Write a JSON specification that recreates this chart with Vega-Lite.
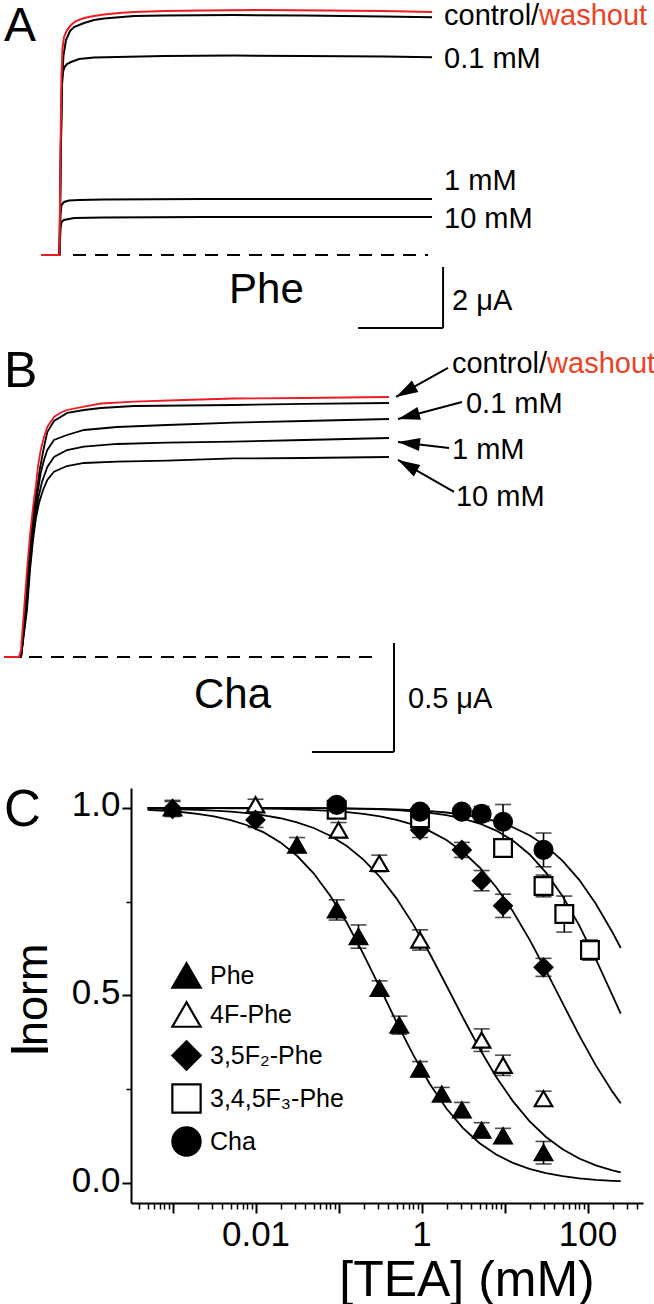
{
"$schema": "https://vega.github.io/schema/vega-lite/v6.json",
"padding": 0,
"spacing": 0,
"bounds": "flush",
"resolve": {"scale": {"shape": "independent", "fill": "independent", "stroke": "independent", "size": "independent"}, "legend": {"shape": "independent", "fill": "independent", "stroke": "independent", "size": "independent"}},
"config": {
  "font": "Liberation Sans, Arial, sans-serif",
  "view": {"stroke": null},
  "axis": {"grid": false, "domainColor": "black", "tickColor": "black", "labelColor": "black", "titleColor": "black", "titleFontWeight": "normal", "labelFont": "Liberation Sans, Arial, sans-serif", "titleFont": "Liberation Sans, Arial, sans-serif"},
  "legend": {"labelFont": "Liberation Sans, Arial, sans-serif", "labelColor": "black"},
  "text": {"color": "black"}
},
"datasets": {
  "a_black": [
    {"trace":"control","t":-42.4,"i":0},{"trace":"control","t":0,"i":0},{"trace":"control","t":3.06,"i":3.443},{"trace":"control","t":5.88,"i":5.738},{"trace":"control","t":9.41,"i":6.557},{"trace":"control","t":15.29,"i":7.049},{"trace":"control","t":24.71,"i":7.344},{"trace":"control","t":34.12,"i":7.475},{"trace":"control","t":57.65,"i":7.607},{"trace":"control","t":81.18,"i":7.705},{"trace":"control","t":104.7,"i":7.754},{"trace":"control","t":175.3,"i":7.836},{"trace":"control","t":245.9,"i":7.852},{"trace":"control","t":410.6,"i":7.869},{"trace":"control","t":575.3,"i":7.852},{"trace":"control","t":763.5,"i":7.82},{"trace":"control","t":876.4,"i":7.793},
    {"trace":"0.1 mM","t":0,"i":0},{"trace":"0.1 mM","t":3.06,"i":3.443},{"trace":"0.1 mM","t":5.88,"i":5.574},{"trace":"0.1 mM","t":8.24,"i":6.0},{"trace":"0.1 mM","t":11.77,"i":6.164},{"trace":"0.1 mM","t":17.65,"i":6.262},{"trace":"0.1 mM","t":27.06,"i":6.328},{"trace":"0.1 mM","t":45.88,"i":6.426},{"trace":"0.1 mM","t":81.18,"i":6.475},{"trace":"0.1 mM","t":135.3,"i":6.492},{"trace":"0.1 mM","t":245.9,"i":6.525},{"trace":"0.1 mM","t":410.6,"i":6.541},{"trace":"0.1 mM","t":575.3,"i":6.525},{"trace":"0.1 mM","t":763.5,"i":6.508},{"trace":"0.1 mM","t":876.4,"i":6.482},
    {"trace":"1 mM","t":0,"i":0},{"trace":"1 mM","t":2.35,"i":1.311},{"trace":"1 mM","t":4.71,"i":1.639},{"trace":"1 mM","t":10.59,"i":1.738},{"trace":"1 mM","t":22.35,"i":1.787},{"trace":"1 mM","t":45.88,"i":1.803},{"trace":"1 mM","t":104.7,"i":1.82},{"trace":"1 mM","t":340.0,"i":1.836},{"trace":"1 mM","t":575.3,"i":1.836},{"trace":"1 mM","t":876.4,"i":1.836},
    {"trace":"10 mM","t":0,"i":0},{"trace":"10 mM","t":2.35,"i":0.885},{"trace":"10 mM","t":4.71,"i":1.082},{"trace":"10 mM","t":10.59,"i":1.148},{"trace":"10 mM","t":34.12,"i":1.213},{"trace":"10 mM","t":104.7,"i":1.23},{"trace":"10 mM","t":340.0,"i":1.246},{"trace":"10 mM","t":575.3,"i":1.246},{"trace":"10 mM","t":876.4,"i":1.246}
  ],
  "a_red": [
    {"t":-42.4,"i":0},{"t":0,"i":0},{"t":2.35,"i":3.443},{"t":4.71,"i":5.902},{"t":7.06,"i":6.787},{"t":10.59,"i":7.148},{"t":17.65,"i":7.377},{"t":27.06,"i":7.541},{"t":38.82,"i":7.672},{"t":57.65,"i":7.77},{"t":81.18,"i":7.836},{"t":104.7,"i":7.885},{"t":140.0,"i":7.934},{"t":175.3,"i":7.967},{"t":245.9,"i":8.0},{"t":340.0,"i":8.016},{"t":481.2,"i":8.033},{"t":622.4,"i":8.016},{"t":763.5,"i":8.0},{"t":876.4,"i":7.967}
  ],
  "a_base": [{"t":31.8,"i":0,"t2":867.1}],
  "a_bar": [{"t":902.4,"i":-0.393,"t2":902.4,"i2":-2.393},{"t":702.4,"i":-2.393,"t2":902.4,"i2":-2.393}],
  "a_text": [{"label":"control/","t":904.7,"i":7.525},{"label":"0.1 mM","t":904.7,"i":6.131},{"label":"1 mM","t":904.7,"i":2.131},{"label":"10 mM","t":904.7,"i":0.885},{"label":"2 μA","t":923.5,"i":-1.803}],
  "a_wash": [{"label":"washout","t":1128.3,"i":7.525}],
  "a_big": [{"label":"Phe","t":398.9,"i":-1.574}],
  "a_letter": [{"label":"A","t":-130.6,"i":7.016}],
  "b_black": [
    {"trace":"control","t":-41.5,"i":0},{"trace":"control","t":0,"i":0},{"trace":"control","t":2.4,"i":0.0321},{"trace":"control","t":9.8,"i":0.2156},{"trace":"control","t":17.1,"i":0.3991},{"trace":"control","t":24.4,"i":0.5596},{"trace":"control","t":31.7,"i":0.6835},{"trace":"control","t":39.0,"i":0.7706},{"trace":"control","t":46.4,"i":0.867},{"trace":"control","t":56.1,"i":0.9633},{"trace":"control","t":64.2,"i":1.0321},{"trace":"control","t":80.5,"i":1.0826},{"trace":"control","t":113.0,"i":1.1193},{"trace":"control","t":153.7,"i":1.133},{"trace":"control","t":194.5,"i":1.1422},{"trace":"control","t":275.7,"i":1.1514},{"trace":"control","t":519.7,"i":1.156},{"trace":"control","t":690.5,"i":1.1606},{"trace":"control","t":897.9,"i":1.1651},
    {"trace":"0.1 mM","t":0,"i":0},{"trace":"0.1 mM","t":12.2,"i":0.2156},{"trace":"0.1 mM","t":19.5,"i":0.3991},{"trace":"0.1 mM","t":26.8,"i":0.5505},{"trace":"0.1 mM","t":34.2,"i":0.6743},{"trace":"0.1 mM","t":41.5,"i":0.7661},{"trace":"0.1 mM","t":48.1,"i":0.844},{"trace":"0.1 mM","t":56.1,"i":0.9037},{"trace":"0.1 mM","t":64.2,"i":0.9495},{"trace":"0.1 mM","t":80.5,"i":0.9954},{"trace":"0.1 mM","t":112.2,"i":1.0183},{"trace":"0.1 mM","t":153.7,"i":1.0413},{"trace":"0.1 mM","t":234.2,"i":1.055},{"trace":"0.1 mM","t":356.2,"i":1.0642},{"trace":"0.1 mM","t":519.7,"i":1.0748},{"trace":"0.1 mM","t":690.5,"i":1.0826},{"trace":"0.1 mM","t":897.9,"i":1.0917},
    {"trace":"1 mM","t":0,"i":0},{"trace":"1 mM","t":13.4,"i":0.2156},{"trace":"1 mM","t":20.7,"i":0.3991},{"trace":"1 mM","t":28.1,"i":0.5367},{"trace":"1 mM","t":35.4,"i":0.6514},{"trace":"1 mM","t":42.7,"i":0.7339},{"trace":"1 mM","t":51.2,"i":0.8028},{"trace":"1 mM","t":64.2,"i":0.8716},{"trace":"1 mM","t":80.5,"i":0.9174},{"trace":"1 mM","t":112.2,"i":0.9495},{"trace":"1 mM","t":153.7,"i":0.9647},{"trace":"1 mM","t":234.2,"i":0.9771},{"trace":"1 mM","t":356.2,"i":0.983},{"trace":"1 mM","t":519.7,"i":0.9876},{"trace":"1 mM","t":690.5,"i":0.9954},{"trace":"1 mM","t":897.9,"i":1.0046},
    {"trace":"10 mM","t":0,"i":0},{"trace":"10 mM","t":14.6,"i":0.2156},{"trace":"10 mM","t":22.0,"i":0.3991},{"trace":"10 mM","t":29.3,"i":0.5367},{"trace":"10 mM","t":36.6,"i":0.6376},{"trace":"10 mM","t":43.9,"i":0.7064},{"trace":"10 mM","t":53.7,"i":0.7661},{"trace":"10 mM","t":64.2,"i":0.8119},{"trace":"10 mM","t":80.5,"i":0.85},{"trace":"10 mM","t":112.2,"i":0.8761},{"trace":"10 mM","t":153.7,"i":0.8899},{"trace":"10 mM","t":234.2,"i":0.8959},{"trace":"10 mM","t":356.2,"i":0.9005},{"trace":"10 mM","t":519.7,"i":0.9106},{"trace":"10 mM","t":690.5,"i":0.9128},{"trace":"10 mM","t":897.9,"i":0.9174}
  ],
  "b_red": [
    {"t":-41.5,"i":0},{"t":-4.9,"i":0},{"t":0,"i":0.0321},{"t":7.3,"i":0.2156},{"t":14.6,"i":0.3991},{"t":22.0,"i":0.5596},{"t":29.3,"i":0.6881},{"t":35.9,"i":0.7798},{"t":41.5,"i":0.8761},{"t":48.1,"i":0.9495},{"t":56.1,"i":1.0092},{"t":64.2,"i":1.055},{"t":80.5,"i":1.1009},{"t":95.2,"i":1.1193},{"t":112.2,"i":1.133},{"t":153.7,"i":1.1482},{"t":195.2,"i":1.1628},{"t":275.7,"i":1.1711},{"t":397.7,"i":1.1789},{"t":519.7,"i":1.1858},{"t":690.5,"i":1.1881},{"t":788.1,"i":1.1904},{"t":897.9,"i":1.1927}
  ],
  "b_base": [{"t":19.5,"i":0,"t2":863.8}],
  "b_lines": [
    {"t":910.1,"i":0.0642,"t2":910.1,"i2":-0.4358},{"t":710.0,"i":-0.4358,"t2":910.1,"i2":-0.4358},
    {"t":1041.9,"i":1.3257,"t2":915.0,"i2":1.1927},{"t":1076.0,"i":1.1697,"t2":919.9,"i2":1.0917},{"t":1044.3,"i":0.9587,"t2":919.9,"i2":0.9862},{"t":1056.5,"i":0.7569,"t2":919.9,"i2":0.9037}
  ],
  "b_heads": [{"t":915.0,"i":1.1927,"dir":150.9},{"t":919.9,"i":1.0917,"dir":165.1},{"t":919.9,"i":0.9862,"dir":186.7},{"t":919.9,"i":0.9037,"dir":209.7}],
  "b_text": [{"label":"control/","t":1051.6,"i":1.3028},{"label":"0.1 mM","t":1085.8,"i":1.1193},{"label":"1 mM","t":1051.6,"i":0.9083},{"label":"10 mM","t":1061.4,"i":0.6927},{"label":"0.5 μA","t":944.3,"i":-0.2339}],
  "b_wash": [{"label":"washout","t":1283.7,"i":1.3028}],
  "b_big": [{"label":"Cha","t":422.1,"i":-0.2339}],
  "b_letter": [{"label":"B","t":-41.5,"i":1.2385}],
  "curves": [
    {"c":0.000501,"Phe":0.9947,"F4":0.9982,"F2":0.9998,"F3":1.0,"Cha":1.0},
    {"c":0.000794,"Phe":0.9924,"F4":0.9975,"F2":0.9998,"F3":1.0,"Cha":1.0},
    {"c":0.001259,"Phe":0.989,"F4":0.9964,"F2":0.9997,"F3":1.0,"Cha":1.0},
    {"c":0.001995,"Phe":0.9842,"F4":0.995,"F2":0.9995,"F3":0.9999,"Cha":1.0},
    {"c":0.003162,"Phe":0.9774,"F4":0.9929,"F2":0.9993,"F3":0.9999,"Cha":0.9999},
    {"c":0.005012,"Phe":0.9676,"F4":0.99,"F2":0.999,"F3":0.9999,"Cha":0.9999},
    {"c":0.007943,"Phe":0.9538,"F4":0.986,"F2":0.9986,"F3":0.9998,"Cha":0.9999},
    {"c":0.01259,"Phe":0.9346,"F4":0.9803,"F2":0.998,"F3":0.9997,"Cha":0.9998},
    {"c":0.01995,"Phe":0.9081,"F4":0.9724,"F2":0.9972,"F3":0.9996,"Cha":0.9997},
    {"c":0.03162,"Phe":0.8724,"F4":0.9614,"F2":0.996,"F3":0.9994,"Cha":0.9995},
    {"c":0.05012,"Phe":0.8256,"F4":0.9464,"F2":0.9943,"F3":0.9991,"Cha":0.9993},
    {"c":0.07943,"Phe":0.766,"F4":0.9259,"F2":0.992,"F3":0.9987,"Cha":0.9991},
    {"c":0.1259,"Phe":0.6937,"F4":0.8984,"F2":0.9887,"F3":0.9981,"Cha":0.9986},
    {"c":0.1995,"Phe":0.6104,"F4":0.8623,"F2":0.984,"F3":0.9972,"Cha":0.998},
    {"c":0.3162,"Phe":0.5201,"F4":0.8159,"F2":0.9774,"F3":0.9959,"Cha":0.9972},
    {"c":0.5012,"Phe":0.4285,"F4":0.7583,"F2":0.9682,"F3":0.9939,"Cha":0.9959},
    {"c":0.7943,"Phe":0.3416,"F4":0.6896,"F2":0.9555,"F3":0.991,"Cha":0.9941},
    {"c":1.259,"Phe":0.2641,"F4":0.6113,"F2":0.938,"F3":0.9867,"Cha":0.9915},
    {"c":1.995,"Phe":0.1989,"F4":0.5267,"F2":0.9143,"F3":0.9805,"Cha":0.9877},
    {"c":3.162,"Phe":0.1466,"F4":0.4407,"F2":0.8826,"F3":0.9714,"Cha":0.9823},
    {"c":5.012,"Phe":0.1062,"F4":0.358,"F2":0.8412,"F3":0.9583,"Cha":0.9747},
    {"c":7.943,"Phe":0.076,"F4":0.283,"F2":0.7887,"F3":0.9395,"Cha":0.9638},
    {"c":12.59,"Phe":0.0538,"F4":0.2185,"F2":0.7245,"F3":0.913,"Cha":0.9485},
    {"c":19.95,"Phe":0.0379,"F4":0.1652,"F2":0.6496,"F3":0.8765,"Cha":0.9272},
    {"c":31.62,"Phe":0.0265,"F4":0.1229,"F2":0.5664,"F3":0.8275,"Cha":0.8981},
    {"c":50.12,"Phe":0.0185,"F4":0.0902,"F2":0.4795,"F3":0.7643,"Cha":0.859},
    {"c":79.43,"Phe":0.0129,"F4":0.0656,"F2":0.3936,"F3":0.6868,"Cha":0.8083},
    {"c":125.9,"Phe":0.0089,"F4":0.0474,"F2":0.3138,"F3":0.5972,"Cha":0.7447},
    {"c":199.5,"Phe":0.0062,"F4":0.034,"F2":0.2438,"F3":0.5005,"Cha":0.6687},
    {"c":251.2,"Phe":0.0052,"F4":0.0288,"F2":0.2129,"F3":0.4517,"Cha":0.6267}
  ],
  "pts": [
    {"s":"Phe","c":0.001,"v":1.0,"e":0.02},{"s":"Phe","c":0.0316,"v":0.901,"e":0.02},{"s":"Phe","c":0.095,"v":0.728,"e":0.027},{"s":"Phe","c":0.174,"v":0.657,"e":0.031},{"s":"Phe","c":0.312,"v":0.519,"e":0.02},{"s":"Phe","c":0.54,"v":0.421,"e":0.024},{"s":"Phe","c":0.96,"v":0.304,"e":0.02},{"s":"Phe","c":1.75,"v":0.237,"e":0.018},{"s":"Phe","c":3.06,"v":0.195,"e":0.02},{"s":"Phe","c":5.3,"v":0.141,"e":0.02},{"s":"Phe","c":9.6,"v":0.126,"e":0.02},{"s":"Phe","c":29.5,"v":0.081,"e":0.03},
    {"s":"4F-Phe","c":0.01,"v":1.008,"e":0.015},{"s":"4F-Phe","c":0.1,"v":0.941,"e":0.02},{"s":"4F-Phe","c":0.31,"v":0.852,"e":0.022},{"s":"4F-Phe","c":0.96,"v":0.648,"e":0.027},{"s":"4F-Phe","c":5.3,"v":0.381,"e":0.03},{"s":"4F-Phe","c":9.6,"v":0.314,"e":0.027},{"s":"4F-Phe","c":29.5,"v":0.225,"e":0.02},
    {"s":"3,5F₂-Phe","c":0.001,"v":0.997,"e":0.02},{"s":"3,5F₂-Phe","c":0.01,"v":0.968,"e":0.02},{"s":"3,5F₂-Phe","c":0.96,"v":0.941,"e":0.02},{"s":"3,5F₂-Phe","c":3.06,"v":0.888,"e":0.02},{"s":"3,5F₂-Phe","c":5.3,"v":0.806,"e":0.027},{"s":"3,5F₂-Phe","c":9.6,"v":0.739,"e":0.031},{"s":"3,5F₂-Phe","c":29.5,"v":0.575,"e":0.024},
    {"s":"3,4,5F₃-Phe","c":0.095,"v":0.995,"e":0.015},{"s":"3,4,5F₃-Phe","c":0.96,"v":0.9725,"e":0.02},{"s":"3,4,5F₃-Phe","c":9.6,"v":0.893,"e":0.02},{"s":"3,4,5F₃-Phe","c":29.5,"v":0.792,"e":0.029},{"s":"3,4,5F₃-Phe","c":52.5,"v":0.717,"e":0.048},{"s":"3,4,5F₃-Phe","c":107,"v":0.621,"e":0.027},
    {"s":"Cha","c":0.095,"v":1.008,"e":0.015},{"s":"Cha","c":0.96,"v":0.99,"e":0.015},{"s":"Cha","c":3.06,"v":0.99,"e":0.015},{"s":"Cha","c":5.3,"v":0.984,"e":0.02},{"s":"Cha","c":9.6,"v":0.963,"e":0.046},{"s":"Cha","c":29.5,"v":0.888,"e":0.045}
  ],
  "c_letter": [{"label":"C","c":0.00000933,"v":0.952}],
  "c_norm": [{"label":"norm","c":0.0000308,"v":0.3653}]
},
"vconcat": [
  {
    "width": 512, "height": 335,
    "layer": [
      {"data":{"name":"a_black"},"mark":{"type":"line","color":"black","strokeWidth":2},
       "encoding":{"x":{"field":"t","type":"quantitative","scale":{"domain":[168.2,1372.8],"nice":false,"zero":false},"axis":null},"y":{"field":"i","type":"quantitative","scale":{"domain":[-2.623,8.361],"nice":false,"zero":false},"axis":null},"detail":{"field":"trace","type":"nominal"}}},
      {"data":{"name":"a_red"},"mark":{"type":"line","color":"#ed1c24","strokeWidth":2},
       "encoding":{"x":{"field":"t","type":"quantitative","scale":{"domain":[168.2,1372.8],"nice":false,"zero":false},"axis":null},"y":{"field":"i","type":"quantitative","scale":{"domain":[-2.623,8.361],"nice":false,"zero":false},"axis":null}}},
      {"data":{"name":"a_base"},"mark":{"type":"rule","color":"black","strokeWidth":2,"strokeDash":[13,9]},
       "encoding":{"x":{"field":"t","type":"quantitative","scale":{"domain":[168.2,1372.8],"nice":false,"zero":false},"axis":null},"x2":{"field":"t2"},"y":{"field":"i","type":"quantitative","scale":{"domain":[-2.623,8.361],"nice":false,"zero":false},"axis":null}}},
      {"data":{"name":"a_bar"},"mark":{"type":"rule","color":"black","strokeWidth":2},
       "encoding":{"x":{"field":"t","type":"quantitative","scale":{"domain":[168.2,1372.8],"nice":false,"zero":false},"axis":null},"x2":{"field":"t2"},"y":{"field":"i","type":"quantitative","scale":{"domain":[-2.623,8.361],"nice":false,"zero":false},"axis":null},"y2":{"field":"i2"}}},
      {"data":{"name":"a_text"},"mark":{"type":"text","align":"left","baseline":"alphabetic","fontSize":29,"color":"black"},
       "encoding":{"x":{"field":"t","type":"quantitative","scale":{"domain":[168.2,1372.8],"nice":false,"zero":false},"axis":null},"y":{"field":"i","type":"quantitative","scale":{"domain":[-2.623,8.361],"nice":false,"zero":false},"axis":null},"text":{"field":"label"}}},
      {"data":{"name":"a_wash"},"mark":{"type":"text","align":"left","baseline":"alphabetic","fontSize":29,"color":"#ef4123"},
       "encoding":{"x":{"field":"t","type":"quantitative","scale":{"domain":[168.2,1372.8],"nice":false,"zero":false},"axis":null},"y":{"field":"i","type":"quantitative","scale":{"domain":[-2.623,8.361],"nice":false,"zero":false},"axis":null},"text":{"field":"label"}}},
      {"data":{"name":"a_big"},"mark":{"type":"text","align":"left","baseline":"alphabetic","fontSize":42,"color":"black"},
       "encoding":{"x":{"field":"t","type":"quantitative","scale":{"domain":[168.2,1372.8],"nice":false,"zero":false},"axis":null},"y":{"field":"i","type":"quantitative","scale":{"domain":[-2.623,8.361],"nice":false,"zero":false},"axis":null},"text":{"field":"label"}}},
      {"data":{"name":"a_letter"},"mark":{"type":"text","align":"left","baseline":"alphabetic","fontSize":48,"color":"black"},
       "encoding":{"x":{"field":"t","type":"quantitative","scale":{"domain":[168.2,1372.8],"nice":false,"zero":false},"axis":null},"y":{"field":"i","type":"quantitative","scale":{"domain":[-2.623,8.361],"nice":false,"zero":false},"axis":null},"text":{"field":"label"}}}
    ]
  },
  {
    "width": 512, "height": 453,
    "layer": [
      {"data":{"name":"b_black"},"mark":{"type":"line","color":"black","strokeWidth":1.8},
       "encoding":{"x":{"field":"t","type":"quantitative","scale":{"domain":[268.4,1517.7],"nice":false,"zero":false},"axis":null},"y":{"field":"i","type":"quantitative","scale":{"domain":[-0.601,1.477],"nice":false,"zero":false},"axis":null},"detail":{"field":"trace","type":"nominal"}}},
      {"data":{"name":"b_red"},"mark":{"type":"line","color":"#ed1c24","strokeWidth":1.8},
       "encoding":{"x":{"field":"t","type":"quantitative","scale":{"domain":[268.4,1517.7],"nice":false,"zero":false},"axis":null},"y":{"field":"i","type":"quantitative","scale":{"domain":[-0.601,1.477],"nice":false,"zero":false},"axis":null}}},
      {"data":{"name":"b_base"},"mark":{"type":"rule","color":"black","strokeWidth":2,"strokeDash":[13,9]},
       "encoding":{"x":{"field":"t","type":"quantitative","scale":{"domain":[268.4,1517.7],"nice":false,"zero":false},"axis":null},"x2":{"field":"t2"},"y":{"field":"i","type":"quantitative","scale":{"domain":[-0.601,1.477],"nice":false,"zero":false},"axis":null}}},
      {"data":{"name":"b_lines"},"mark":{"type":"rule","color":"black","strokeWidth":2},
       "encoding":{"x":{"field":"t","type":"quantitative","scale":{"domain":[268.4,1517.7],"nice":false,"zero":false},"axis":null},"x2":{"field":"t2"},"y":{"field":"i","type":"quantitative","scale":{"domain":[-0.601,1.477],"nice":false,"zero":false},"axis":null},"y2":{"field":"i2"}}},
      {"data":{"name":"b_heads"},"mark":{"type":"point","shape":"M0,0L-2,-0.6L-2,0.6Z","filled":true,"color":"black","opacity":1,"size":480},
       "encoding":{"x":{"field":"t","type":"quantitative","scale":{"domain":[268.4,1517.7],"nice":false,"zero":false},"axis":null},"y":{"field":"i","type":"quantitative","scale":{"domain":[-0.601,1.477],"nice":false,"zero":false},"axis":null},"angle":{"field":"dir","type":"quantitative","scale":null}}},
      {"data":{"name":"b_text"},"mark":{"type":"text","align":"left","baseline":"alphabetic","fontSize":29,"color":"black"},
       "encoding":{"x":{"field":"t","type":"quantitative","scale":{"domain":[268.4,1517.7],"nice":false,"zero":false},"axis":null},"y":{"field":"i","type":"quantitative","scale":{"domain":[-0.601,1.477],"nice":false,"zero":false},"axis":null},"text":{"field":"label"}}},
      {"data":{"name":"b_wash"},"mark":{"type":"text","align":"left","baseline":"alphabetic","fontSize":29,"color":"#ef4123"},
       "encoding":{"x":{"field":"t","type":"quantitative","scale":{"domain":[268.4,1517.7],"nice":false,"zero":false},"axis":null},"y":{"field":"i","type":"quantitative","scale":{"domain":[-0.601,1.477],"nice":false,"zero":false},"axis":null},"text":{"field":"label"}}},
      {"data":{"name":"b_big"},"mark":{"type":"text","align":"left","baseline":"alphabetic","fontSize":42,"color":"black"},
       "encoding":{"x":{"field":"t","type":"quantitative","scale":{"domain":[268.4,1517.7],"nice":false,"zero":false},"axis":null},"y":{"field":"i","type":"quantitative","scale":{"domain":[-0.601,1.477],"nice":false,"zero":false},"axis":null},"text":{"field":"label"}}},
      {"data":{"name":"b_letter"},"mark":{"type":"text","align":"left","baseline":"alphabetic","fontSize":50,"color":"black"},
       "encoding":{"x":{"field":"t","type":"quantitative","scale":{"domain":[268.4,1517.7],"nice":false,"zero":false},"axis":null},"y":{"field":"i","type":"quantitative","scale":{"domain":[-0.601,1.477],"nice":false,"zero":false},"axis":null},"text":{"field":"label"}}}
    ]
  },
  {
    "width": 512, "height": 415,
    "resolve": {"axis": {"x": "independent", "y": "independent"}},
    "layer": [
      {"data":{"name":"curves"},"transform":[{"fold":["Phe","F4","F2","F3","Cha"],"as":["s","v"]}],
       "mark":{"type":"line","color":"black","strokeWidth":1.8},
       "encoding":{
         "x":{"field":"c","type":"quantitative","scale":{"type":"log","domain":[0.000316,466],"nice":false},
              "axis":{"orient":"bottom","values":[0.001,0.01,0.1,1,10,100],"labelExpr":"datum.value < 0.005 ? '' : datum.value < 0.05 ? '0.01' : datum.value < 0.5 ? '' : datum.value < 5 ? '1' : datum.value < 50 ? '' : '100'","labelFontSize":35,"labelPadding":4,"labelFlush":false,"labelOverlap":false,"tickSize":10,"tickWidth":2,"domainWidth":2,"title":"[TEA] (mM)","titleFontSize":50,"titleX":335.5,"titleY":92,"titleAlign":"center","titleBaseline":"alphabetic"}},
         "y":{"field":"v","type":"quantitative","scale":{"domain":[-0.053,1.053],"nice":false,"zero":false},
              "axis":{"orient":"left","values":[0,0.5,1],"labelExpr":"format(datum.value, '.1f')","labelFontSize":35,"labelPadding":2,"labelOffset":-3,"labelFlush":false,"labelOverlap":false,"tickSize":9,"tickWidth":2,"domainWidth":2,"title":"I","titleFontSize":54,"titleAngle":270,"titleX":-84,"titleY":269,"titleAlign":"left","titleBaseline":"alphabetic"}},
         "detail":{"field":"s","type":"nominal"}}},
      {"data":{"name":"pts"},
       "mark":{"type":"errorbar","color":"black","ticks":{"size":16,"thickness":1.6,"color":"black"},"rule":{"strokeWidth":1.6,"color":"black"}},
       "encoding":{
         "x":{"field":"c","type":"quantitative","scale":{"type":"log","domain":[0.000316,466],"nice":false},"axis":null},
         "y":{"field":"v","type":"quantitative","scale":{"domain":[-0.053,1.053],"nice":false,"zero":false},"axis":null},
         "yError":{"field":"e"}}},
      {"data":{"name":"pts"},
       "mark":{"type":"point","strokeWidth":2.2,"opacity":1},
       "encoding":{
         "x":{"field":"c","type":"quantitative","scale":{"type":"log","domain":[0.000316,466],"nice":false},
              "axis":{"orient":"bottom","values":[0.0004,0.0005,0.0006,0.0007,0.0008,0.0009,0.002,0.003,0.004,0.005,0.006,0.007,0.008,0.009,0.02,0.03,0.04,0.05,0.06,0.07,0.08,0.09,0.2,0.3,0.4,0.5,0.6,0.7,0.8,0.9,2,3,4,5,6,7,8,9,20,30,40,50,60,70,80,90,200,300,400],"labels":false,"domain":false,"tickSize":6,"tickWidth":1.5,"title":null}},
         "y":{"field":"v","type":"quantitative","scale":{"domain":[-0.053,1.053],"nice":false,"zero":false},
              "axis":{"orient":"left","values":[0.25,0.75],"labels":false,"domain":false,"tickSize":5,"tickWidth":1.5,"title":null}},
         "shape":{"field":"s","type":"nominal","scale":{"domain":["Phe","4F-Phe","3,5F₂-Phe","3,4,5F₃-Phe","Cha"],"range":["triangle-up","triangle-up","diamond","square","circle"]},
                  "legend":{"title":null,"orient":"none","legendX":40,"legendY":172,"padding":0,"labelFontSize":25,"labelOffset":8,"rowPadding":4,"symbolSize":800,"symbolStrokeWidth":2.2,"symbolOpacity":1}},
         "fill":{"field":"s","type":"nominal","scale":{"domain":["Phe","4F-Phe","3,5F₂-Phe","3,4,5F₃-Phe","Cha"],"range":["black","white","black","white","black"]},
                  "legend":{"title":null,"orient":"none","legendX":40,"legendY":172,"padding":0,"labelFontSize":25,"labelOffset":8,"rowPadding":4,"symbolSize":800,"symbolStrokeWidth":2.2,"symbolOpacity":1}},
         "stroke":{"field":"s","type":"nominal","scale":{"domain":["Phe","4F-Phe","3,5F₂-Phe","3,4,5F₃-Phe","Cha"],"range":["black","black","black","black","black"]},
                  "legend":{"title":null,"orient":"none","legendX":40,"legendY":172,"padding":0,"labelFontSize":25,"labelOffset":8,"rowPadding":4,"symbolSize":800,"symbolStrokeWidth":2.2,"symbolOpacity":1}},
         "size":{"field":"s","type":"nominal","scale":{"domain":["Cha","3,4,5F₃-Phe","3,5F₂-Phe","4F-Phe","Phe"],"range":[320,300,420,420,420]},"legend":null}}},
      {"data":{"name":"c_letter"},"mark":{"type":"text","align":"left","baseline":"alphabetic","fontSize":51,"color":"black"},
       "encoding":{"x":{"field":"c","type":"quantitative","scale":{"type":"log","domain":[0.000316,466],"nice":false},"axis":null},"y":{"field":"v","type":"quantitative","scale":{"domain":[-0.053,1.053],"nice":false,"zero":false},"axis":null},"text":{"field":"label"}}},
      {"data":{"name":"c_norm"},"mark":{"type":"text","align":"left","baseline":"alphabetic","fontSize":45,"angle":270,"color":"black"},
       "encoding":{"x":{"field":"c","type":"quantitative","scale":{"type":"log","domain":[0.000316,466],"nice":false},"axis":null},"y":{"field":"v","type":"quantitative","scale":{"domain":[-0.053,1.053],"nice":false,"zero":false},"axis":null},"text":{"field":"label"}}}
    ]
  }
]
}
